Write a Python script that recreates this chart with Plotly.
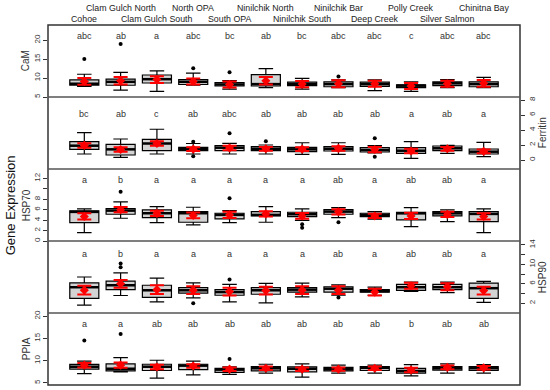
import plotly.graph_objects as go

sites = ["Cohoe", "Clam Gulch North", "Clam Gulch South", "North OPA", "South OPA",
         "Ninilchik North", "Ninilchik South", "Ninilchik Bar", "Deep Creek",
         "Polly Creek", "Silver Salmon", "Chinitna Bay"]
pos = list(range(1, 13))

# ---- CaM ----
cam_lo  = [7.8, 6.8, 6.5, 8.1, 7.1, 7.5, 7.1, 7.5, 6.7, 6.5, 7.5, 7.5]
cam_q1  = [8.1, 8.1, 8.7, 8.3, 7.9, 7.9, 8.0, 7.7, 7.8, 7.5, 8.0, 7.7]
cam_med = [8.5, 9.0, 9.7, 9.0, 8.3, 8.4, 8.4, 8.4, 8.4, 8.0, 8.6, 8.4]
cam_q3  = [9.5, 9.7, 10.8, 9.6, 8.8, 10.9, 8.9, 9.0, 8.9, 8.2, 9.0, 9.0]
cam_hi  = [11.0, 11.5, 11.9, 11.3, 9.3, 12.5, 9.9, 9.5, 9.5, 9.0, 9.6, 10.2]
cam_mean = [9.1, 9.3, 9.6, 9.1, 8.3, 9.3, 8.4, 8.5, 8.5, 7.9, 8.5, 8.6]
cam_se  = [0.9, 1.0, 0.9, 0.8, 0.8, 1.0, 0.8, 0.9, 0.8, 0.8, 0.8, 0.9]
cam_out_x = [1, 2, 4, 5, 8]
cam_out_y = [15.0, 19.0, 12.6, 11.5, 10.4]
cam_letters = ["abc", "ab", "a", "abc", "bc", "ab", "bc", "abc", "abc", "c", "abc", "abc"]

# ---- Ferritin ----
fer_lo  = [0.8, 0.36, 0.8, 0.8, 0.8, 0.8, 0.76, 0.76, 0.96, 0.22, 0.89, 0.44]
fer_q1  = [1.42, 0.67, 1.24, 1.24, 1.24, 1.24, 1.11, 1.2, 1.07, 0.89, 1.24, 0.8]
fer_med = [1.91, 1.42, 2.2, 1.47, 1.64, 1.5, 1.42, 1.5, 1.33, 1.24, 1.56, 1.11]
fer_q3  = [2.44, 2.09, 2.76, 1.69, 1.91, 1.78, 1.69, 1.78, 1.64, 1.64, 1.87, 1.47]
fer_hi  = [3.64, 2.8, 4.1, 2.2, 2.22, 2.0, 2.3, 2.3, 1.91, 2.44, 1.95, 2.36]
fer_mean = [1.95, 1.4, 2.2, 1.45, 1.6, 1.5, 1.45, 1.55, 1.4, 1.2, 1.5, 1.15]
fer_se  = [0.3, 0.3, 0.3, 0.25, 0.3, 0.25, 0.25, 0.3, 0.35, 0.3, 0.25, 0.25]
fer_out_x = [4, 4, 5, 6, 9, 9]
fer_out_y = [2.45, 0.5, 3.56, 2.49, 2.9, 0.44]
fer_letters = ["bc", "ab", "c", "ab", "abc", "ab", "ab", "ab", "ab", "a", "ab", "a"]

# ---- HSP70 ----
h70_lo  = [1.6, 4.36, 3.53, 3.08, 3.53, 3.59, 3.97, 4.49, 4.2, 2.76, 3.72, 1.6]
h70_q1  = [3.53, 5.13, 4.49, 3.59, 4.23, 4.8, 4.68, 5.13, 4.68, 4.04, 4.8, 3.72]
h70_med = [5.58, 5.83, 5.32, 5.32, 5.0, 5.0, 5.13, 5.64, 5.0, 5.3, 5.3, 5.19]
h70_q3  = [5.77, 6.21, 5.96, 5.64, 5.32, 5.64, 5.51, 6.03, 5.32, 5.51, 5.64, 5.64]
h70_hi  = [6.15, 7.5, 6.6, 6.47, 5.83, 6.6, 6.15, 6.4, 5.64, 6.4, 5.96, 6.15]
h70_mean = [4.7, 6.0, 5.3, 4.9, 5.0, 5.2, 4.8, 5.6, 4.8, 4.8, 5.1, 4.7]
h70_se  = [0.6, 0.5, 0.5, 0.55, 0.6, 0.5, 0.55, 0.5, 0.4, 0.6, 0.5, 0.6]
h70_out_x = [2, 5, 7, 7, 8]
h70_out_y = [9.42, 8.2, 3.2, 2.56, 3.59]
h70_letters = ["a", "b", "a", "a", "a", "a", "a", "ab", "a", "ab", "ab", "a"]

# ---- HSP90 ----
h90_lo  = [1.6, 3.6, 2.3, 3.1, 2.3, 2.1, 3.3, 3.65, 3.65, 4.46, 4.2, 2.2]
h90_q1  = [3.0, 4.8, 3.2, 4.1, 3.65, 3.85, 4.3, 4.3, 4.3, 4.67, 4.8, 3.0]
h90_med = [5.3, 5.7, 4.67, 4.67, 4.3, 4.67, 4.8, 5.0, 4.5, 5.3, 5.3, 5.1]
h90_q3  = [6.2, 6.55, 5.7, 5.2, 4.8, 5.2, 5.2, 5.4, 4.8, 5.9, 5.9, 6.15]
h90_hi  = [7.4, 8.26, 7.16, 6.2, 5.9, 6.1, 6.15, 5.8, 5.3, 6.35, 6.35, 6.5]
h90_mean = [4.7, 6.0, 4.8, 4.7, 4.4, 4.6, 4.7, 4.7, 4.3, 5.6, 5.4, 4.6]
h90_se  = [0.9, 0.8, 0.9, 0.8, 0.8, 0.8, 0.8, 0.8, 0.7, 0.6, 0.7, 0.8]
h90_out_x = [2, 2, 4, 5, 8]
h90_out_y = [10.2, 9.4, 2.0, 6.9, 3.2]
h90_letters = ["a", "b", "a", "a", "a", "a", "a", "ab", "a", "ab", "ab", "a"]

# ---- PPIA ----
ppi_lo  = [7.1, 7.5, 6.1, 6.8, 6.95, 7.2, 6.3, 7.2, 7.2, 6.6, 7.2, 7.2]
ppi_q1  = [8.13, 7.7, 7.8, 8.0, 7.4, 7.7, 7.5, 7.7, 7.8, 7.2, 7.9, 7.8]
ppi_med = [8.65, 8.2, 8.65, 8.9, 8.0, 8.3, 8.2, 8.1, 8.4, 7.7, 8.3, 8.3]
ppi_q3  = [9.18, 9.3, 9.2, 9.2, 8.3, 8.65, 8.6, 8.5, 8.65, 8.3, 8.65, 8.65]
ppi_hi  = [9.9, 10.7, 10.1, 9.9, 8.6, 9.2, 9.3, 9.0, 9.0, 9.1, 9.3, 9.1]
ppi_mean = [9.0, 9.0, 8.6, 8.8, 8.1, 8.3, 8.1, 8.1, 8.3, 7.9, 8.5, 8.4]
ppi_se  = [0.5, 0.6, 0.5, 0.4, 0.4, 0.4, 0.4, 0.35, 0.4, 0.5, 0.4, 0.4]
ppi_out_x = [1, 2, 5]
ppi_out_y = [14.55, 16.0, 10.4]
ppi_letters = ["a", "a", "ab", "ab", "ab", "ab", "ab", "ab", "ab", "b", "ab", "ab"]

panels = [
    dict(ax="y5", name="CaM", side="left", lo=cam_lo, q1=cam_q1, med=cam_med, q3=cam_q3,
         hi=cam_hi, mean=cam_mean, se=cam_se, ox=cam_out_x, oy=cam_out_y, let=cam_letters,
         lety=21.0, dom=(0.8, 1.0)),
    dict(ax="y4", name="Ferritin", side="right", lo=fer_lo, q1=fer_q1, med=fer_med, q3=fer_q3,
         hi=fer_hi, mean=fer_mean, se=fer_se, ox=fer_out_x, oy=fer_out_y, let=fer_letters,
         lety=6.1, dom=(0.6, 0.8)),
    dict(ax="y3", name="HSP70", side="left", lo=h70_lo, q1=h70_q1, med=h70_med, q3=h70_q3,
         hi=h70_hi, mean=h70_mean, se=h70_se, ox=h70_out_x, oy=h70_out_y, let=h70_letters,
         lety=11.6, dom=(0.4, 0.6)),
    dict(ax="y2", name="HSP90", side="right", lo=h90_lo, q1=h90_q1, med=h90_med, q3=h90_q3,
         hi=h90_hi, mean=h90_mean, se=h90_se, ox=h90_out_x, oy=h90_out_y, let=h90_letters,
         lety=12.2, dom=(0.2, 0.4)),
    dict(ax="y", name="PPIA", side="left", lo=ppi_lo, q1=ppi_q1, med=ppi_med, q3=ppi_q3,
         hi=ppi_hi, mean=ppi_mean, se=ppi_se, ox=ppi_out_x, oy=ppi_out_y, let=ppi_letters,
         lety=18.2, dom=(0.0, 0.2)),
]

fig = go.Figure()
half = 0.4
for p in panels:
    fig.add_trace(go.Box(
        x=pos, q1=p["q1"], median=p["med"], q3=p["q3"],
        lowerfence=p["lo"], upperfence=p["hi"],
        width=0.8, whiskerwidth=0.5, boxpoints=False,
        fillcolor="#d3d3d3", line=dict(color="black", width=1.2),
        xaxis="x", yaxis=p["ax"], showlegend=False, hoverinfo="skip"))
    mx, my = [], []
    for xi, m in zip(pos, p["med"]):
        mx += [xi - half, xi + half, None]
        my += [m, m, None]
    fig.add_trace(go.Scatter(x=mx, y=my, mode="lines", line=dict(color="black", width=2.5),
                             xaxis="x", yaxis=p["ax"], showlegend=False, hoverinfo="skip"))
    fig.add_trace(go.Scatter(x=p["ox"], y=p["oy"], mode="markers",
                             marker=dict(color="black", size=4),
                             xaxis="x", yaxis=p["ax"], showlegend=False, hoverinfo="skip"))
    fig.add_trace(go.Scatter(x=pos, y=p["mean"], mode="markers",
                             marker=dict(color="red", size=7, symbol="diamond"),
                             error_y=dict(type="data", array=p["se"], color="red",
                                          thickness=2, width=7),
                             xaxis="x", yaxis=p["ax"], showlegend=False, hoverinfo="skip"))
    for xi, t in zip(pos, p["let"]):
        fig.add_annotation(x=xi, y=p["lety"], xref="x", yref=p["ax"], text=t,
                           showarrow=False, font=dict(size=9, color="#333333"))
    fig.add_annotation(x=-0.046 if p["side"] == "left" else 1.047,
                       y=(p["dom"][0] + p["dom"][1]) / 2, xref="paper", yref="paper",
                       text=p["name"], textangle=-90, showarrow=False,
                       xanchor="center", yanchor="middle",
                       font=dict(size=10, color="#333333"))

for i, (xi, s) in enumerate(zip(pos, sites)):
    fig.add_annotation(x=xi, y=1.047 if i % 2 == 1 else 1.017, xref="x", yref="paper",
                       text=s, showarrow=False, xanchor="center", yanchor="middle",
                       font=dict(size=8.8, color="#222222"))

fig.add_annotation(x=-0.080, y=0.5, xref="paper", yref="paper", text="Gene Expression",
                   textangle=-90, showarrow=False, xanchor="center", yanchor="middle",
                   font=dict(size=13, color="#111111"))

axcommon = dict(ticks="outside", ticklen=4, tickcolor="#333333", tickangle=-90,
                tickfont=dict(size=8, color="#333333"), showgrid=False, zeroline=False,
                showline=False, anchor="x", automargin=False)

fig.update_layout(
    width=550, height=390,
    margin=dict(l=48, r=30, t=25, b=5, autoexpand=False),
    paper_bgcolor="white", plot_bgcolor="white",
    font=dict(family="Liberation Sans, Arial, sans-serif"),
    xaxis=dict(range=[0, 13], showticklabels=False, ticks="", showgrid=False,
               zeroline=False, domain=[0, 1], anchor="y", automargin=False),
    yaxis=dict(domain=[0, 0.2], range=[4.55, 20.7], tickvals=[5, 10, 15, 20],
               side="left", **axcommon),
    yaxis2=dict(domain=[0.2, 0.4], range=[0, 14.8], tickvals=[2, 4, 6, 8, 10, 12, 14],
                ticktext=["2", "", "6", "", "10", "", "14"], side="right", **axcommon),
    yaxis3=dict(domain=[0.4, 0.6], range=[0, 13.8], tickvals=[0, 2, 4, 6, 8, 10, 12],
                ticktext=["0", "2", "4", "6", "8", "", "12"], side="left", **axcommon),
    yaxis4=dict(domain=[0.6, 0.8], range=[-1.2, 8.4], tickvals=[0, 2, 4, 6, 8],
                side="right", **axcommon),
    yaxis5=dict(domain=[0.8, 1.0], range=[5, 24], tickvals=[5, 10, 15, 20],
                side="left", **axcommon),
)

shapes = [dict(type="rect", xref="paper", yref="paper", x0=0, x1=1, y0=0, y1=1,
               line=dict(color="#333333", width=1.5))]
for yv in [0.2, 0.4, 0.6, 0.8]:
    shapes.append(dict(type="line", xref="paper", yref="paper", x0=0, x1=1, y0=yv, y1=yv,
                       line=dict(color="#555555", width=1.5)))
fig.update_layout(shapes=shapes)

fig.write_html("out.html", config={"displayModeBar": False},
               post_script="document.body.style.margin='0';")
